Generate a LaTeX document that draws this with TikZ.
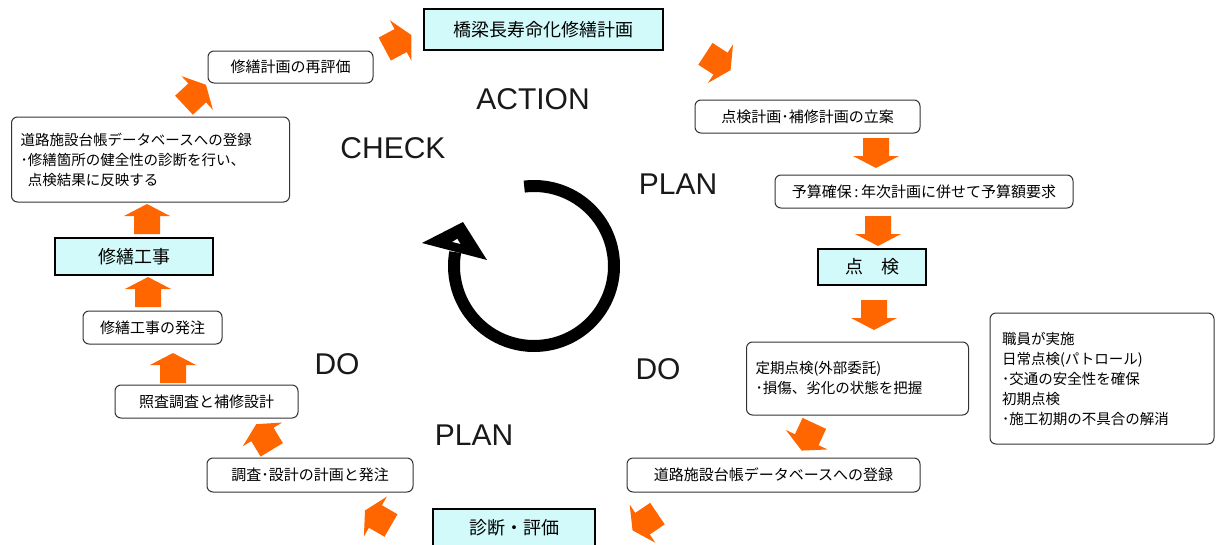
\documentclass[tikz,border=0pt]{standalone}
\usepackage{fontspec}
\setmainfont{Liberation Sans}
\newfontfamily\jp{Noto Sans CJK JP}
\definecolor{cyanbg}{RGB}{210,250,250}
\definecolor{orng}{RGB}{255,102,0}
\begin{document}
\begin{tikzpicture}[x=1pt,y=-1pt,
  box/.style={draw=black!80, line width=1pt, rounded corners=6pt, fill=white, inner sep=0pt,
    font=\jp\fontsize{15}{20}\selectfont},
  tbox/.style={box, inner xsep=9pt, align=left, font=\jp\fontsize{14.5}{20}\selectfont},
  cbox/.style={draw=black, line width=1.4pt, fill=cyanbg, inner sep=0pt,
    font=\jp\fontsize{18}{22}\selectfont},
  phase/.style={font=\fontsize{30}{36}\selectfont, text=black!90},
  blkarrow/.pic={\fill[orng] (-15,-13) -- (3,-13) -- (3,-23) -- (15,0) -- (3,23) -- (3,13) -- (-15,13) -- cycle;}
]
\useasboundingbox (0,0) rectangle (1216,544);
\fill[white] (0,0) rectangle (1216,544);

% boxes
\node[cbox, minimum width=239pt, minimum height=41pt] (top) at (543.5,29.5) {橋梁長寿命化修繕計画};
\node[box, minimum width=165pt, minimum height=32pt] (reeval) at (290.5,67) {修繕計画の再評価};
\node[box, minimum width=225pt, minimum height=33pt] (plan1) at (807.5,116.5) {点検計画･補修計画の立案};
\node[box, minimum width=298pt, minimum height=33pt] (budget) at (924,191.5) {予算確保\,:\,年次計画に併せて予算額要求};
\node[cbox, minimum width=108pt, minimum height=36pt] (insp) at (872,267) {点\hspace{1em}検};
\node[tbox, text width=204pt, minimum height=73pt] (periodic) at (857.5,378.5)
  {定期点検(外部委託)\\･損傷、劣化の状態を把握};
\node[tbox, inner xsep=12pt, text width=200pt, minimum height=131pt] (staff) at (1102,378.5)
  {職員が実施\\日常点検(パトロール)\\･交通の安全性を確保\\初期点検\\･施工初期の不具合の解消};
\node[box, minimum width=293pt, minimum height=34pt] (dbR) at (773.5,475) {道路施設台帳データベースへの登録};
\node[cbox, minimum width=162pt, minimum height=38pt] (diag) at (514,528) {診断・評価};
\node[box, minimum width=206pt, minimum height=34pt] (survey) at (310,475) {調査･設計の計画と発注};
\node[box, minimum width=183pt, minimum height=33pt] (check2) at (206.5,401.5) {照査調査と補修設計};
\node[box, minimum width=139pt, minimum height=33pt] (order) at (152.5,327.5) {修繕工事の発注};
\node[cbox, minimum width=158pt, minimum height=37pt] (repair) at (134,256.5) {修繕工事};
\node[tbox, text width=260pt, minimum height=85pt] (dbL) at (150.5,159.5)
  {道路施設台帳データベースへの登録\\･修繕箇所の健全性の診断を行い、\\\hspace{0.5em}点検結果に反映する};

% phase labels
\node[phase] (act) at (533,99) {ACTION};
\node[phase] (chk) at (393,148) {CHECK};
\node[phase] (planR) at (678,184) {PLAN};
\node[phase] (doR) at (658,369) {DO};
\node[phase] (doL) at (337,364) {DO};
\node[phase] (planB) at (474,435) {PLAN};

% orange block arrows
\pic[rotate=28] at (398,42) {blkarrow};
\pic[rotate=-33] at (718,62) {blkarrow};
\pic[rotate=-90] at (876,153) {blkarrow};
\pic[rotate=-90] at (878,231) {blkarrow};
\pic[rotate=-90] at (874,315) {blkarrow};
\pic[rotate=-115] at (808,437) {blkarrow};
\pic[rotate=-146] at (645,522) {blkarrow};
\pic[rotate=150] at (378,518) {blkarrow};
\pic[rotate=121] at (264,437) {blkarrow};
\pic[rotate=90] at (173,368) {blkarrow};
\pic[rotate=90] at (148,292) {blkarrow};
\pic[rotate=90] at (147,219) {blkarrow};
\pic[rotate=43] at (195,95) {blkarrow};

% central cycle arrow
\begin{scope}[shift={(534,266)}, y=1pt]
  \draw[line width=12pt] (97:80) arc[start angle=97, end angle=-190, radius=80];
\end{scope}
\fill[black] (422,243) -- (463,222) -- (487,260) -- cycle;
\fill[white] (457.3,241.7) ++(-5,0.2) -- ++(5,-3) -- ++(3,5) -- cycle;
\end{tikzpicture}
\end{document}
